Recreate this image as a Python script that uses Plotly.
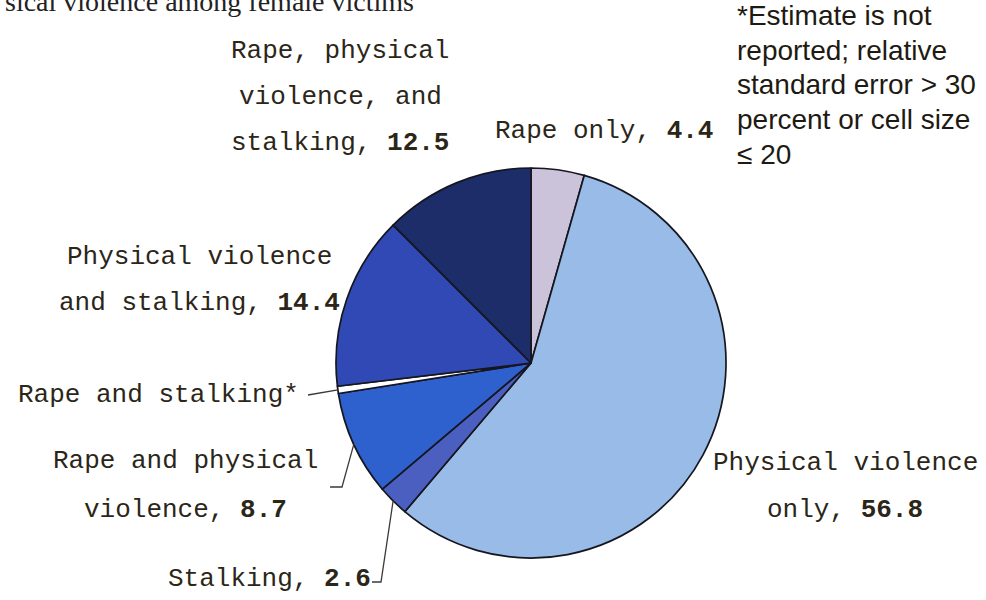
import math
import plotly.graph_objects as go

# ---- data -------------------------------------------------------------
categories = [
    "Rape only",
    "Physical violence only",
    "Stalking",
    "Rape and physical violence",
    "Rape and stalking*",
    "Physical violence and stalking",
    "Rape, physical violence, and stalking",
]
values = [4.4, 56.8, 2.6, 8.7, 0.6, 14.4, 12.5]
reported = [True, True, True, True, False, True, True]

# how each slice label wraps (the value is appended to the last line)
label_lines = [
    ["Rape only"],
    ["Physical violence", "only"],
    ["Stalking"],
    ["Rape and physical", "violence"],
    ["Rape and stalking*"],
    ["Physical violence", "and stalking"],
    ["Rape, physical", "violence, and", "stalking"],
]

title_text = "sical violence among female victims"
note_lines = [
    "*Estimate is not",
    "reported; relative",
    "standard error > 30",
    "percent or cell size",
    "\u2264 20",
]

# ---- styling / layout -------------------------------------------------
W, H = 986, 600
CX, CY, R = 531, 363, 195
colors = ["#CBC3DA", "#98BBE8", "#4A5FC0", "#2E60CE", "#FFFFFF", "#3049B4", "#1C2D6A"]
text_color = "#2b2618"
mono = "Liberation Mono, Courier New, monospace"
label_size = 26

# label placement: (centre x px, centre y px of first line, line gap px)
label_place = [
    (604, 131, 46),
    (845, 463, 47),
    (269, 579, 46),
    (185, 461, 49),
    (158, 395, 46),
    (199, 257, 46),
    (340, 51, 46),
]
# leader lines: (slice index, text-end x, knee x, label y)
leaders = [
    (4, 308, None, 395),
    (3, 330, 342, 487),
    (2, 372, 381, 582),
]


def px(x, y):
    return x / W, 1 - y / H


fig = go.Figure(
    go.Pie(
        labels=categories,
        values=values,
        sort=False,
        direction="clockwise",
        rotation=0,
        textinfo="none",
        hoverinfo="label+value",
        marker=dict(colors=colors, line=dict(color="#16161f", width=1.7)),
        domain=dict(
            x=[(CX - R) / W, (CX + R) / W],
            y=[1 - (CY + R) / H, 1 - (CY - R) / H],
        ),
        showlegend=False,
    )
)

annotations = []
total = sum(values)
cum = [sum(values[:i]) for i in range(len(values))]


def edge_point(i, scale=1.0):
    ang = math.radians(360 * (cum[i] + values[i] / 2) / total)
    return CX + R * scale * math.sin(ang), CY - R * scale * math.cos(ang)


# slice labels
for i, lines in enumerate(label_lines):
    x0, y0, gap = label_place[i]
    for k, line in enumerate(lines):
        txt = line
        if k == len(lines) - 1 and reported[i]:
            txt = f"{line}, <b>{values[i]}</b>"
        ax, ay = px(x0, y0 + k * gap)
        annotations.append(dict(
            x=ax, y=ay, xref="paper", yref="paper", text=txt, showarrow=False,
            xanchor="center", yanchor="middle",
            font=dict(family=mono, size=label_size, color=text_color),
        ))

# leader lines for the small slices
shapes = []
for idx, tx, kx, ly in leaders:
    ex, ey = edge_point(idx, 1.0)
    pts = [(tx, ly)]
    if kx is not None:
        pts.append((kx, ly))
    pts.append((ex, ey))
    path = "M " + " L ".join(f"{px(a, b)[0]:.5f},{px(a, b)[1]:.5f}" for a, b in pts)
    shapes.append(dict(type="path", path=path, xref="paper", yref="paper",
                       line=dict(color="#3a3a3a", width=1.3)))

# heading (runs off the top edge)
hx, hy = px(3, 2)
annotations.append(dict(
    x=hx, y=hy, xref="paper", yref="paper", text=title_text, showarrow=False,
    xanchor="left", yanchor="middle",
    font=dict(family="Liberation Serif, Times New Roman, serif", size=28, color="#222"),
))

# footnote
for k, line in enumerate(note_lines):
    nx, ny = px(735, 15 + 35 * k)
    annotations.append(dict(
        x=nx, y=ny, xref="paper", yref="paper", text=line, showarrow=False,
        xanchor="left", yanchor="middle",
        font=dict(family="Liberation Sans, Arial, sans-serif", size=28, color="#1e1a12"),
    ))

fig.update_layout(
    width=W, height=H,
    margin=dict(l=0, r=0, t=0, b=0, pad=0),
    paper_bgcolor="white", plot_bgcolor="white",
    annotations=annotations, shapes=shapes,
)

fig.write_html("out.html")
